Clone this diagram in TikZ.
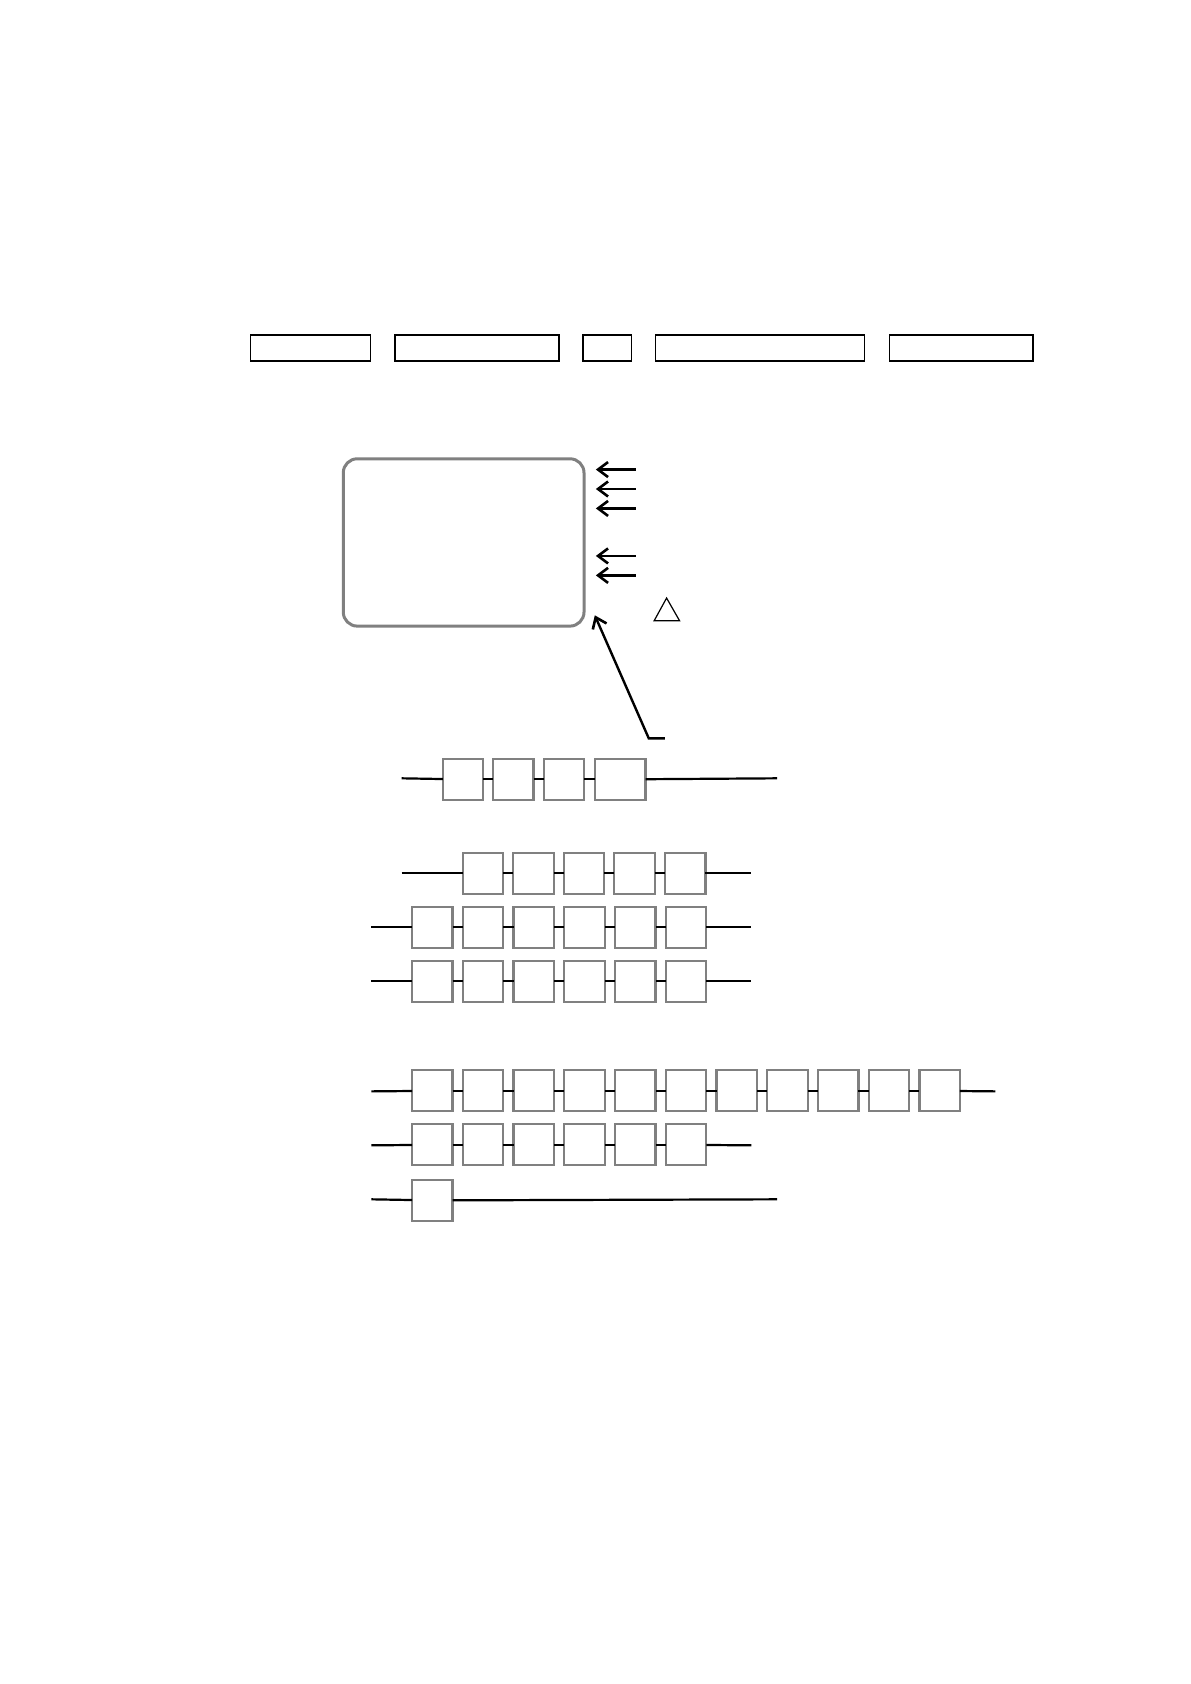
\documentclass[tikz,border=0pt]{standalone}
\usetikzlibrary{arrows.meta}
\begin{document}
\begin{tikzpicture}[x=0.5397pt,y=-0.5397pt]
\tikzset{
  topbox/.style={draw=black, line width=0.75pt, inner sep=0pt, outer sep=0pt, minimum height=24*0.5397pt},
  panel/.style={draw=black!50, line width=1.5pt, rounded corners=7pt, inner sep=0pt, outer sep=0pt},
  rowbox/.style={draw=black!50, fill=white, line width=1.1pt, inner sep=0pt, outer sep=0pt,
                 minimum width=37.5*0.5397pt, minimum height=38*0.5397pt},
  wire/.style={line width=1.1pt, black},
  ptr/.style={line width=1.2pt, black, -{Straight Barb[length=5pt,width=7.5pt,line width=1.3pt]}},
  tri/.style={line width=0.6pt, black}
}
\useasboundingbox (0,0) rectangle (1103,1560);

% top row of boxes
\node[topbox, minimum width=111*0.5397pt] (t1) at (287.5,322.5) {};
\node[topbox, minimum width=152*0.5397pt] (t2) at (442,322.5) {};
\node[topbox, minimum width=45*0.5397pt]  (t3) at (562.5,322.5) {};
\node[topbox, minimum width=194*0.5397pt] (t4) at (704,322.5) {};
\node[topbox, minimum width=133*0.5397pt] (t5) at (890.5,322.5) {};

% rounded panel
\node[panel, minimum width=223*0.5397pt, minimum height=155*0.5397pt] (pan) at (429.5,502.5) {};

% short arrows
\foreach \k/\yy in {1/435,2/453,3/471,4/515,5/533}{
  \coordinate (as\k) at (589,\yy);
  \coordinate (ae\k) at (552,\yy);
  \draw[ptr] (as\k) -- (ae\k);
}

% triangle
\coordinate (tA) at (606,575);
\coordinate (tB) at (629.5,575);
\coordinate (tC) at (617.5,554);
\draw[tri] (tA) -- (tB) -- (tC) -- cycle;

% long arrow
\coordinate (lt) at (616,684);
\coordinate (lc) at (601,684);
\coordinate (ltip) at (551,570);
\draw[ptr] (lt) -- (lc) -- (ltip);

% row 0
\node[rowbox] (r0b0) at (429,722) {};
\node[rowbox] (r0b1) at (475.5,722) {};
\node[rowbox] (r0b2) at (522.5,722) {};
\node[rowbox, minimum width=47*0.5397pt] (r0b3) at (574.5,722) {};
\coordinate (r0s) at (372,721);
\coordinate (r0e) at (720,721);
\draw[wire] (r0s) -- (r0b0);
\draw[wire] (r0b0) -- (r0b1);
\draw[wire] (r0b1) -- (r0b2);
\draw[wire] (r0b2) -- (r0b3);
\draw[wire] (r0b3) -- (r0e);

% row 1
\foreach \i in {0,...,4}{ \node[rowbox] (r1b\i) at ({447.5+46.8*\i},809) {}; }
\coordinate (r1s) at (372,809);
\coordinate (r1e) at (696,809);
\draw[wire] (r1s) -- (r1b0);
\foreach \i/\j in {0/1,1/2,2/3,3/4}{ \draw[wire] (r1b\i) -- (r1b\j); }
\draw[wire] (r1b4) -- (r1e);

% row 2
\foreach \i in {0,...,5}{ \node[rowbox] (r2b\i) at ({400.5+47*\i},859) {}; }
\coordinate (r2s) at (344,859);
\coordinate (r2e) at (696,859);
\draw[wire] (r2s) -- (r2b0);
\foreach \i/\j in {0/1,1/2,2/3,3/4,4/5}{ \draw[wire] (r2b\i) -- (r2b\j); }
\draw[wire] (r2b5) -- (r2e);

% row 3
\foreach \i in {0,...,5}{ \node[rowbox] (r3b\i) at ({400.5+47*\i},909) {}; }
\coordinate (r3s) at (344,909);
\coordinate (r3e) at (696,909);
\draw[wire] (r3s) -- (r3b0);
\foreach \i/\j in {0/1,1/2,2/3,3/4,4/5}{ \draw[wire] (r3b\i) -- (r3b\j); }
\draw[wire] (r3b5) -- (r3e);

% row 4
\foreach \i in {0,...,10}{ \node[rowbox] (r4b\i) at ({400.5+47*\i},1010.5) {}; }
\coordinate (r4s) at (344,1011);
\coordinate (r4e) at (922,1011);
\draw[wire] (r4s) -- (r4b0);
\foreach \i/\j in {0/1,1/2,2/3,3/4,4/5,5/6,6/7,7/8,8/9,9/10}{ \draw[wire] (r4b\i) -- (r4b\j); }
\draw[wire] (r4b10) -- (r4e);

% row 5
\foreach \i in {0,...,5}{ \node[rowbox] (r5b\i) at ({400.5+47*\i},1060.5) {}; }
\coordinate (r5s) at (344,1061);
\coordinate (r5e) at (696,1061);
\draw[wire] (r5s) -- (r5b0);
\foreach \i/\j in {0/1,1/2,2/3,3/4,4/5}{ \draw[wire] (r5b\i) -- (r5b\j); }
\draw[wire] (r5b5) -- (r5e);

% row 6
\node[rowbox] (r6b0) at (400.5,1112) {};
\coordinate (r6s) at (344,1111);
\coordinate (r6e) at (720,1111);
\draw[wire] (r6s) -- (r6b0);
\draw[wire] (r6b0) -- (r6e);
\end{tikzpicture}
\end{document}
